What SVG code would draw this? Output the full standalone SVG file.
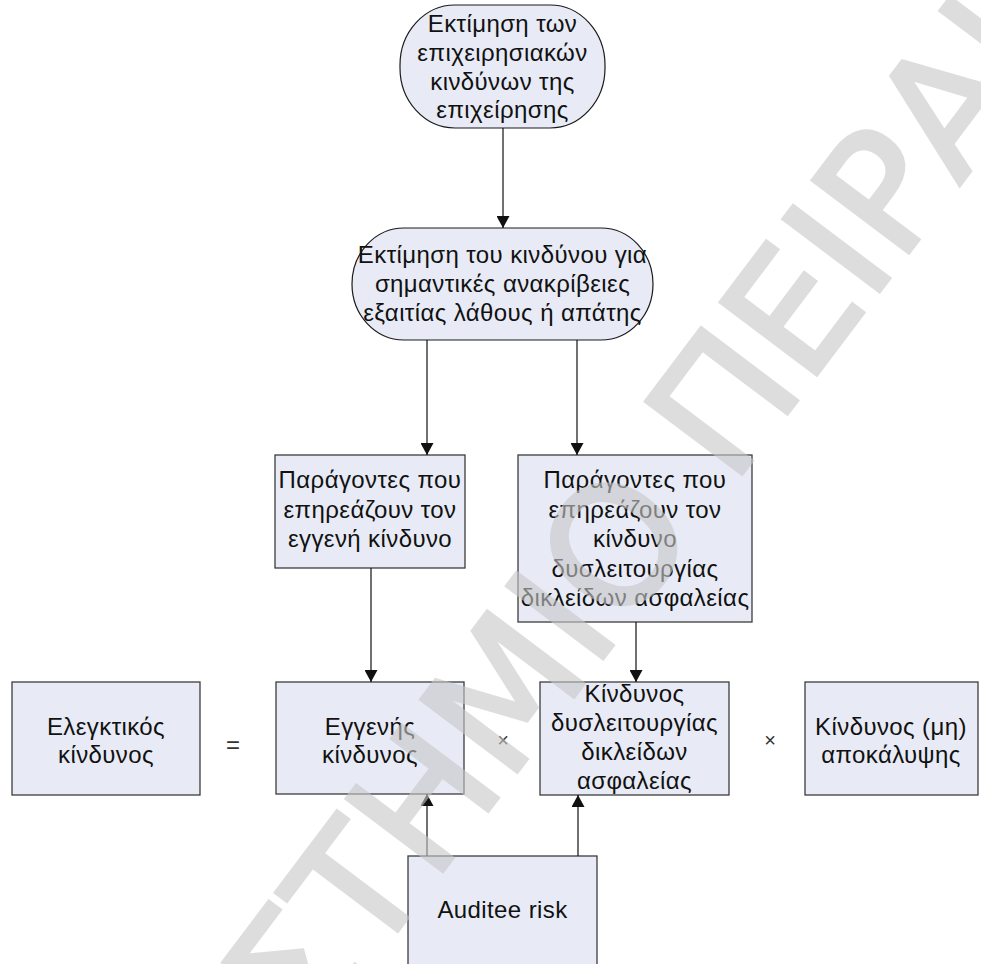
<svg xmlns="http://www.w3.org/2000/svg" width="981" height="964" viewBox="0 0 981 964">
<style>
.box{fill:#e8ebf6;stroke:#3c3c3c;stroke-width:1.3}
.term{fill:#e8ebf6;stroke:#1a1a1a;stroke-width:1.2}
.t{font-family:"Liberation Sans",Arial,sans-serif;font-size:24px;letter-spacing:0.4px;fill:#111;text-anchor:middle}
.op{font-family:"Liberation Sans",Arial,sans-serif;fill:#333;text-anchor:middle}
.c{stroke:#111;stroke-width:1.2;fill:none;marker-end:url(#ah)}
.wm{font-family:"DejaVu Sans",sans-serif;font-size:165px;fill:#c8c8c8;stroke:#c8c8c8;stroke-width:4}
</style>
<defs>
<marker id="ah" markerWidth="13" markerHeight="13" refX="12" refY="6.5" orient="auto" markerUnits="userSpaceOnUse">
<path d="M0,0 L12,6.5 L0,13 Z" fill="#111"/>
</marker>
</defs>
<rect width="981" height="964" fill="#fff"/>

<g id="n1">
<rect class="term" x="400" y="5" width="205" height="123" rx="55" ry="60"/>
<text class="t" x="502.5" y="32">Εκτίμηση των</text>
<text class="t" x="502.5" y="61">επιχειρησιακών</text>
<text class="t" x="502.5" y="90">κινδύνων της</text>
<text class="t" x="502.5" y="118">επιχείρησης</text>
</g>

<g id="n2">
<rect class="term" x="352" y="228" width="301" height="112" rx="52" ry="56"/>
<text class="t" x="502.5" y="263">Εκτίμηση του κινδύνου για</text>
<text class="t" x="502.5" y="292">σημαντικές ανακρίβειες</text>
<text class="t" x="502.5" y="321">εξαιτίας λάθους ή απάτης</text>
</g>

<g id="b3">
<rect class="box" x="275" y="455" width="190" height="113"/>
<text class="t" x="370" y="488">Παράγοντες που</text>
<text class="t" x="370" y="517.5">επηρεάζουν τον</text>
<text class="t" x="370" y="547">εγγενή κίνδυνο</text>
</g>

<g id="b4">
<rect class="box" x="518" y="455" width="234" height="167"/>
<text class="t" x="635" y="488">Παράγοντες που</text>
<text class="t" x="635" y="517.5">επηρεάζουν τον</text>
<text class="t" x="635" y="547">κίνδυνο</text>
<text class="t" x="635" y="576.5">δυσλειτουργίας</text>
<text class="t" x="635" y="606">δικλείδων ασφαλείας</text>
</g>

<g id="r1">
<rect class="box" x="12" y="682" width="188" height="113"/>
<text class="t" x="106" y="735">Ελεγκτικός</text>
<text class="t" x="106" y="763">κίνδυνος</text>
</g>

<g id="r2">
<rect class="box" x="276" y="682" width="188" height="112"/>
<text class="t" x="370" y="735">Εγγενής</text>
<text class="t" x="370" y="763">κίνδυνος</text>
</g>

<g id="r3">
<rect class="box" x="540" y="682" width="189" height="113"/>
<text class="t" x="634.5" y="702">Κίνδυνος</text>
<text class="t" x="634.5" y="731">δυσλειτουργίας</text>
<text class="t" x="634.5" y="760">δικλείδων</text>
<text class="t" x="634.5" y="789">ασφαλείας</text>
</g>

<g id="r4">
<rect class="box" x="805" y="682" width="173" height="113"/>
<text class="t" x="891" y="735">Κίνδυνος (μη)</text>
<text class="t" x="891" y="763">αποκάλυψης</text>
</g>

<g id="aud">
<rect class="box" x="408" y="856" width="189" height="120"/>
<text class="t" x="502.5" y="918">Auditee risk</text>
</g>

<g id="ops">
<text class="op" x="233" y="753" font-size="24">=</text>
<text class="op" x="503" y="747" font-size="20">×</text>
<text class="op" x="770" y="747" font-size="20">×</text>
</g>

<g id="connectors">
<line class="c" x1="503" y1="128" x2="503" y2="228"/>
<line class="c" x1="427" y1="340" x2="427" y2="455"/>
<line class="c" x1="577" y1="340" x2="577" y2="455"/>
<line class="c" x1="371" y1="568" x2="371" y2="682"/>
<line class="c" x1="636" y1="622" x2="636" y2="682"/>
<line class="c" x1="427" y1="856" x2="427" y2="794"/>
<line class="c" x1="578" y1="856" x2="578" y2="795"/>
</g>

<g id="watermark" opacity="0.6">
<text class="wm" transform="translate(662,580) rotate(-53)" x="-1223" y="0">ΠΑΝΕΠΙΣΤΗΜΙΟ ΠΕΙΡΑΙΩΣ</text>
</g>
</svg>
